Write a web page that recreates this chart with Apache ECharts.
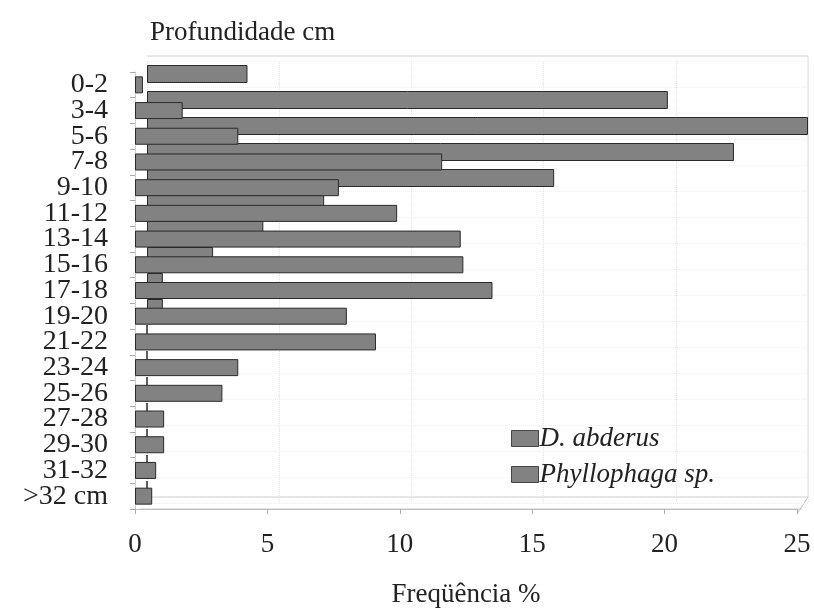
<!DOCTYPE html>
<html><head><meta charset="utf-8">
<script src="https://cdn.jsdelivr.net/npm/echarts@6/dist/echarts.min.js"></script>
<style>html,body{margin:0;padding:0;background:#fff}#c{width:814px;height:613px}</style>
</head><body><div id="c"></div>
<script>
const categories = ['0-2','3-4','5-6','7-8','9-10','11-12','13-14','15-16','17-18','19-20','21-22','23-24','25-26','27-28','29-30','31-32','>32 cm'];
const dAbderus = [0.3,1.8,3.9,11.6,7.7,9.9,12.3,12.4,13.5,8.0,9.1,3.9,3.3,1.1,1.1,0.8,0.65];
const phyllophaga = [3.8,19.7,25.0,22.2,15.4,6.7,4.4,2.5,0.6,0.6,0,0,0,0,0,0,0];
const xTicks = [0,5,10,15,20,25];

const FONT = '"Liberation Serif","DejaVu Serif",serif';
const BAR = '#828282';
const TXT = '#222';
const chart = echarts.init(document.getElementById('c'));
chart.setOption({
  animation:false,
  backgroundColor:'#fff',
  title:{text:'Profundidade cm',left:150,top:19,padding:0,
    textStyle:{fontFamily:FONT,fontSize:27,fontWeight:'normal',color:TXT}},
  legend:{left:506,top:420,orient:'vertical',icon:'rect',itemWidth:27,itemHeight:16,itemGap:9,
    data:['D. abderus','Phyllophaga sp.'],
    itemStyle:{color:BAR,borderColor:'#444',borderWidth:1},
    textStyle:{fontFamily:FONT,fontSize:27,fontStyle:'italic',color:TXT,padding:[0,0,0,-4]}},
  grid:[
    {left:147,width:661,top:61,height:442},
    {left:135,width:662,top:72,height:442}
  ],
  xAxis:[
    {gridIndex:0,type:'value',min:xTicks[0],max:xTicks[xTicks.length-1],interval:5,
     axisLabel:{show:false},axisLine:{show:false},axisTick:{show:false},
     splitLine:{show:true,lineStyle:{color:'#e2e2e2',type:'dotted'}}},
    {gridIndex:1,type:'value',min:xTicks[0],max:xTicks[xTicks.length-1],interval:5,
     axisLine:{show:true,lineStyle:{color:'#bdbdbd'}},
     axisTick:{show:true,length:5,lineStyle:{color:'#aaa'}},
     splitLine:{show:false},
     axisLabel:{margin:22,fontFamily:FONT,fontSize:27,color:TXT},
     name:'Freqüência %',nameLocation:'middle',nameGap:72,
     nameTextStyle:{fontFamily:FONT,fontSize:27,color:TXT}}
  ],
  yAxis:[
    {gridIndex:0,type:'category',data:categories,inverse:true,
     axisLabel:{show:false},axisLine:{show:false},axisTick:{show:false},
     splitLine:{show:true,lineStyle:{color:'#efefef',type:'dotted'}}},
    {gridIndex:1,type:'category',data:categories,inverse:true,
     axisLine:{show:true,lineStyle:{color:'#c4c4c4',type:'dotted'}},
     axisTick:{show:true,length:5,lineStyle:{color:'#aaa'}},
     axisLabel:{interval:0,margin:27,fontFamily:FONT,fontSize:28,color:TXT,lineHeight:26}}
  ],
  graphic:[
    {type:'line',shape:{x1:147,y1:56,x2:808,y2:56},style:{stroke:'#d0d0d0',lineWidth:1},silent:true},
    {type:'line',shape:{x1:808,y1:56,x2:808,y2:497},style:{stroke:'#dcdcdc',lineWidth:1},silent:true},
    {type:'line',shape:{x1:147,y1:497,x2:808,y2:497},style:{stroke:'#cfcfcf',lineWidth:1},silent:true},
    {type:'line',shape:{x1:140,y1:509,x2:802,y2:509},style:{stroke:'#cfcfcf',lineWidth:1},silent:true},
    {type:'line',shape:{x1:808,y1:497,x2:797,y2:514},style:{stroke:'#c0c0c0',lineWidth:1},silent:true}
  ],
  series:[
    {name:'Phyllophaga sp.',type:'bar',xAxisIndex:0,yAxisIndex:0,data:phyllophaga,barWidth:18,
     itemStyle:{color:BAR,borderColor:'#2a2a2a',borderWidth:1}},
    {name:'D. abderus',type:'bar',xAxisIndex:1,yAxisIndex:1,data:dAbderus,barWidth:17,
     itemStyle:{color:BAR,borderColor:'#2a2a2a',borderWidth:1}}
  ]
});
</script></body></html>
